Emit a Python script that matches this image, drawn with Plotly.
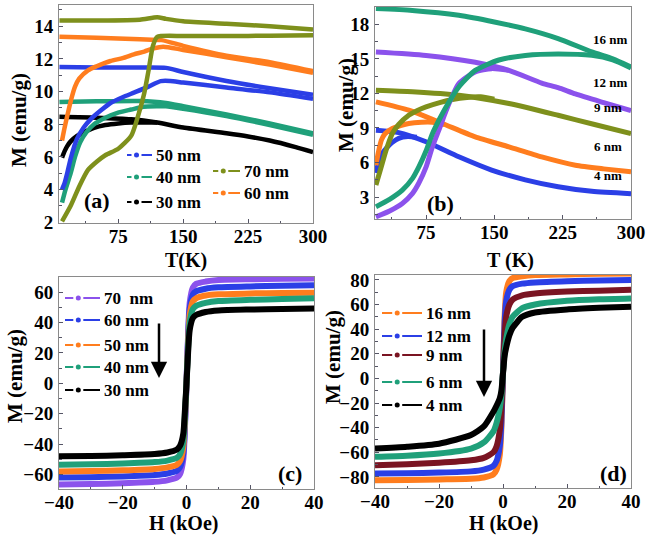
import plotly.graph_objects as go

# ---------------- data ----------------
# Panel (a): ZFC / FC, M (emu/g) vs T (K)
a_names = ["30 nm", "40 nm", "50 nm", "60 nm", "70 nm"]
a_fc_T = {
    "30 nm": [7, 50, 90, 120, 150, 200, 225, 250, 280, 300],
    "40 nm": [7, 50, 100, 130, 150, 200, 250, 300],
    "50 nm": [7, 50, 100, 130, 150, 200, 250, 300],
    "60 nm": [7, 50, 100, 125, 150, 200, 250, 300],
    "70 nm": [7, 50, 100, 120, 130, 150, 200, 250, 300],
}
a_fc_M = {
    "30 nm": [8.45, 8.4, 8.3, 8.1, 7.8, 7.45, 7.25, 7.0, 6.6, 6.3],
    "40 nm": [9.36, 9.4, 9.42, 9.3, 9.1, 8.6, 8.05, 7.45],
    "50 nm": [11.5, 11.48, 11.47, 11.45, 11.2, 10.65, 10.2, 9.8],
    "60 nm": [13.35, 13.3, 13.2, 13.15, 12.8, 12.2, 11.8, 11.25],
    "70 nm": [14.35, 14.35, 14.4, 14.55, 14.45, 14.3, 14.15, 14.0, 13.8],
}
a_zfc_T = {
    "30 nm": [10, 13, 16, 20, 27, 35, 47, 60, 75, 90, 105, 120],
    "40 nm": [10, 14, 20, 25, 31, 38, 47, 60, 74, 90, 104, 120, 130, 150, 200, 250, 300],
    "50 nm": [10, 13, 16, 20, 27, 35, 43, 55, 66, 80, 93, 110, 124, 135, 150, 200, 250, 300],
    "60 nm": [10, 13, 16, 20, 25, 30, 40, 50, 66, 80, 93, 105, 116, 127, 150, 200, 250, 300],
    "70 nm": [10, 20, 30, 40, 50, 60, 75, 90, 100, 105, 110, 115, 120, 150, 200, 250, 300],
}
a_zfc_M = {
    "30 nm": [5.95, 6.35, 6.66, 6.95, 7.27, 7.5, 7.78, 7.95, 8.05, 8.1, 8.1, 8.1],
    "40 nm": [3.2, 4.0, 5.0, 6.0, 6.9, 7.5, 8.0, 8.4, 8.7, 8.9, 9.07, 9.1, 9.1, 8.95, 8.5, 7.95, 7.35],
    "50 nm": [4.0, 4.4, 5.0, 5.9, 7.07, 7.8, 8.3, 8.85, 9.3, 9.65, 9.93, 10.3, 10.64, 10.65, 10.55, 10.25, 9.95, 9.55],
    "60 nm": [7.0, 7.8, 8.5, 9.4, 10.3, 10.8, 11.3, 11.55, 11.87, 12.05, 12.28, 12.45, 12.65, 12.75, 12.55, 12.1, 11.65, 11.15],
    "70 nm": [2.05, 3.0, 4.2, 5.2, 5.7, 6.1, 6.5, 7.3, 8.9, 9.9, 11.3, 12.8, 13.35, 13.4, 13.4, 13.42, 13.45],
}

# Panel (b)
b_names = ["4 nm", "6 nm", "9 nm", "12 nm", "16 nm"]
b_fc_T = {
    "4 nm": [20, 45, 75, 111, 147, 184, 220, 257, 300],
    "6 nm": [20, 56, 93, 129, 166, 202, 239, 270, 300],
    "9 nm": [20, 60, 111, 166, 220, 260, 300],
    "12 nm": [20, 75, 129, 166, 202, 220, 239, 270, 300],
    "16 nm": [20, 60, 111, 150, 184, 220, 257, 280, 300],
}
b_fc_M = {
    "4 nm": [8.8, 8.6, 7.8, 6.5, 5.35, 4.5, 3.9, 3.5, 3.3],
    "6 nm": [11.26, 10.54, 9.39, 8.23, 7.36, 6.49, 5.77, 5.45, 5.19],
    "9 nm": [12.28, 12.15, 11.84, 11.12, 10.1, 9.3, 8.52],
    "12 nm": [15.6, 15.3, 14.7, 14.0, 12.9, 12.5, 11.95, 11.2, 10.5],
    "16 nm": [19.36, 19.2, 18.78, 18.2, 17.6, 16.76, 15.6, 15.0, 14.3],
}
b_zfc_T = {
    "4 nm": [20, 23, 27, 32, 38, 45, 55, 65],
    "6 nm": [20, 23, 26, 30, 38, 47, 56, 70, 82, 95],
    "9 nm": [20, 25, 29, 33, 38, 45, 56, 65, 75, 90, 104, 120, 135, 150],
    "12 nm": [20, 35, 49, 60, 67, 75, 82, 90, 97, 111, 129, 147, 166],
    "16 nm": [20, 35, 49, 60, 67, 75, 82, 90, 97, 111, 129, 155, 184, 220, 257, 280, 300],
}
b_zfc_M = {
    "4 nm": [5.1, 6.0, 6.8, 7.3, 7.75, 8.1, 8.25, 8.2],
    "6 nm": [5.77, 7.0, 7.94, 8.5, 8.95, 9.2, 9.39, 9.5, 9.5, 9.3],
    "9 nm": [4.04, 5.4, 6.5, 7.5, 8.52, 9.3, 10.1, 10.5, 10.83, 11.2, 11.47, 11.65, 11.7, 11.5],
    "12 nm": [1.29, 1.8, 2.45, 3.3, 4.2, 5.6, 7.36, 9.0, 10.5, 12.86, 13.86, 14.15, 14.0],
    "16 nm": [2.16, 2.8, 3.6, 4.6, 5.6, 7.0, 8.5, 9.8, 10.83, 12.56, 14.0, 14.9, 15.3, 15.43, 15.3, 14.9, 14.2],
}

# Panel (c) and (d): M-H loops
H_kOe = [-40, -30, -20, -10, -6, -3, -2, -1, -0.5, 0, 0.5, 1, 2, 3, 6, 10, 20, 30, 40]
c_names = ["70 nm", "60 nm", "50 nm", "40 nm", "30 nm"]
c_M = {
    "70 nm": [-66.5, -66.2, -65.7, -64.8, -63.8, -62, -59.5, -50, -30, 0, 32, 53, 63, 65.5, 67, 68, 68.5, 68.8, 69],
    "60 nm": [-62, -61.7, -61.2, -60.3, -59.3, -57.5, -55, -46, -27, 0, 29, 49, 58.5, 60.5, 62.3, 63.2, 63.8, 64.2, 64.5],
    "50 nm": [-58, -57.7, -57.2, -56.3, -55.3, -53.5, -51, -42, -24, 0, 26, 45, 54, 56, 57.8, 58.6, 59.2, 59.5, 59.7],
    "40 nm": [-53.5, -53.2, -52.7, -51.8, -50.8, -49, -46.5, -38, -21, 0, 23, 40, 49, 51, 53, 54.2, 55, 55.5, 56],
    "30 nm": [-48, -47.8, -47.3, -46.5, -45.5, -43.5, -41, -33, -18, 0, 20, 35, 43, 45, 47, 48, 48.6, 49, 49.2],
}
d_names = ["16 nm", "12 nm", "9 nm", "6 nm", "4 nm"]
d_M = {
    "16 nm": [-82.7, -82.5, -82, -81.5, -80.5, -78, -74, -62, -40, 5, 50, 70, 79, 81.5, 83, 84, 84.5, 85, 85.3],
    "12 nm": [-77.3, -77, -76.5, -75.5, -74, -71, -67, -55, -35, 5, 45, 63, 72, 75, 77, 78, 79, 79.5, 80],
    "9 nm": [-70.5, -69.7, -68.5, -66.5, -64.5, -60, -55, -42, -25, 5, 35, 50, 60, 64, 67.5, 69, 70.5, 71.3, 72],
    "6 nm": [-63.7, -62.8, -61, -57, -52, -43, -36, -24, -14, 5, 22, 32, 44, 50, 57, 60, 63, 64.3, 65],
    "4 nm": [-57, -55.5, -53, -46, -39, -27, -22, -16, -10, 4, 18, 25, 35, 41, 50, 53.5, 56, 57.3, 58.3],
}

# ---------------- styles ----------------
BLUE = "#2b3fe6"
TEAL = "#1fa07a"
BLACK = "#000000"
OLIVE = "#7e901c"
ORANGE = "#ff7d1e"
PURPLE = "#8b52ec"
MAROON = "#7a1422"

a_colors = {"30 nm": BLACK, "40 nm": TEAL, "50 nm": BLUE, "60 nm": ORANGE, "70 nm": OLIVE}
b_colors = {"4 nm": BLUE, "6 nm": ORANGE, "9 nm": OLIVE, "12 nm": PURPLE, "16 nm": TEAL}
c_colors = {"70 nm": PURPLE, "60 nm": BLUE, "50 nm": ORANGE, "40 nm": TEAL, "30 nm": BLACK}
d_colors = {"16 nm": ORANGE, "12 nm": BLUE, "9 nm": MAROON, "6 nm": TEAL, "4 nm": BLACK}

W, Hh = 654, 539
SERIF = "Liberation Serif"


def pxx(x):
    return x / W


def pxy(y):
    return 1 - y / Hh


fig = go.Figure()


def add_line(x, y, color, width, xa, ya):
    fig.add_trace(go.Scatter(x=x, y=y, mode="lines", showlegend=False,
                             line=dict(color=color, width=width, shape="spline", smoothing=0.6),
                             xaxis=xa, yaxis=ya, hoverinfo="skip"))


for n in a_names:
    add_line(a_fc_T[n], a_fc_M[n], a_colors[n], 4.5, "x", "y")
    add_line(a_zfc_T[n], a_zfc_M[n], a_colors[n], 4.5, "x", "y")
for n in b_names:
    add_line(b_fc_T[n], b_fc_M[n], b_colors[n], 5, "x2", "y2")
    add_line(b_zfc_T[n], b_zfc_M[n], b_colors[n], 5, "x2", "y2")
for n in c_names:
    add_line(H_kOe, c_M[n], c_colors[n], 6, "x3", "y3")
for n in d_names:
    add_line(H_kOe, d_M[n], d_colors[n], 6, "x4", "y4")


def axis(domain, rng, dtick, minor_dtick, anchor, standoff, fsize):
    return dict(domain=domain, range=rng, anchor=anchor, automargin=False, showline=True,
                linecolor="#8a8a8a", linewidth=1, mirror=True, ticks="inside", ticklen=4,
                tickcolor="#556", tickmode="linear", tick0=0, dtick=dtick, showgrid=False,
                zeroline=False, tickfont=dict(family=SERIF, size=fsize, color="black", weight="bold"),
                ticklabelstandoff=standoff,
                minor=dict(ticks="inside", ticklen=2.5, tickcolor="#556", dtick=minor_dtick, tick0=0))


XS, YS, XF, YF = -4, 1, 19, 19
layout = dict(
    template="none",
    width=W, height=Hh, margin=dict(l=0, r=0, t=0, b=0, pad=0), autosize=False,
    paper_bgcolor="white", plot_bgcolor="white", showlegend=False,
    xaxis=axis([pxx(59), pxx(313)], [6.5, 300], 75, 37.5, "y", XS, XF),
    yaxis=axis([pxy(223), pxy(5)], [1.95, 15.3], 2, 1, "x", YS, YF),
    xaxis2=axis([pxx(375), pxx(631)], [19, 300], 75, 37.5, "y2", XS, XF),
    yaxis2=axis([pxy(219), pxy(7)], [1.1, 19.5], 3, 1.5, "x2", YS, YF),
    xaxis3=axis([pxx(59), pxx(314)], [-40, 40], 20, 10, "y3", XS, XF),
    yaxis3=axis([pxy(489), pxy(277)], [-69.5, 70], 20, 10, "x3", YS, YF),
    xaxis4=axis([pxx(375), pxx(631)], [-40, 40], 20, 10, "y4", XS, XF),
    yaxis4=axis([pxy(488), pxy(275)], [-89, 84], 20, 10, "x4", YS, YF),
)
fig.update_layout(**layout)

annotations = []
shapes = []


def text(x, y, s, size, xanchor="center", angle=0):
    annotations.append(dict(x=pxx(x), y=pxy(y), xref="paper", yref="paper", text=s, showarrow=False,
                            xanchor=xanchor, yanchor="middle", textangle=angle,
                            font=dict(family=SERIF, size=size, color="black", weight="bold")))


# axis titles
text(19, 120, "M (emu/g)", 21, angle=-90)
text(346, 105, "M (emu/g)", 21, angle=-90)
text(15, 376, "M (emu/g)", 21, angle=-90)
text(333, 357, "M (emu/g)", 21, angle=-90)
text(186, 260, "T(K)", 20)
text(510, 260, "T (K)", 20)
text(183, 523, "H (kOe)", 20)
text(503, 523, "H (kOe)", 20)

# panel labels
text(97, 201, "(a)", 22)
text(440, 203, "(b)", 22)
text(290, 473, "(c)", 22)
text(613, 473, "(d)", 22)

# (b) inline labels
b_label_pos = {"16 nm": (610, 39), "12 nm": (610, 82), "9 nm": (608, 108), "6 nm": (608, 146), "4 nm": (608, 176)}
for n in b_names:
    text(b_label_pos[n][0], b_label_pos[n][1], n, 13)


def legend_item(x0, x1, y, color, label, size=17):
    xd = x0 + (x1 - x0) * 0.38
    shapes.append(dict(type="line", xref="paper", yref="paper", x0=pxx(x0), x1=pxx(xd - 5),
                       y0=pxy(y), y1=pxy(y), line=dict(color=color, width=2)))
    shapes.append(dict(type="line", xref="paper", yref="paper", x0=pxx(xd + 5), x1=pxx(x1),
                       y0=pxy(y), y1=pxy(y), line=dict(color=color, width=2)))
    shapes.append(dict(type="circle", xref="paper", yref="paper", x0=pxx(xd - 2.5), x1=pxx(xd + 2.5),
                       y0=pxy(y + 2.5), y1=pxy(y - 2.5), fillcolor=color, line=dict(color=color, width=0)))
    text(x1 + 2, y, label, size, xanchor="left")


# (a) legend
a_leg_pos = {"50 nm": (127, 152, 155), "40 nm": (127, 152, 177), "30 nm": (127, 152, 202),
             "70 nm": (213, 240, 171), "60 nm": (213, 240, 193)}
for n in ["50 nm", "40 nm", "30 nm", "70 nm", "60 nm"]:
    x0, x1, y = a_leg_pos[n]
    legend_item(x0, x1, y, a_colors[n], n)

# (c) legend
c_leg_y = [298, 320, 345, 367, 390]
c_labels = ["70\u00a0\u00a0nm", "60 nm", "50 nm", "40 nm", "30 nm"]
for n, lab, y in zip(c_names, c_labels, c_leg_y):
    legend_item(65, 100, y, c_colors[n], lab)

# (d) legend
d_leg_y = [313, 336, 355, 382, 405]
for n, y in zip(d_names, d_leg_y):
    legend_item(382, 422, y, d_colors[n], n)

# arrows
for ax_x, y_tail, y_head in [(159, 322, 378), (484, 328, 397)]:
    annotations.append(dict(x=pxx(ax_x), y=pxy(y_head), xref="paper", yref="paper",
                            ax=0, ay=-(y_head - y_tail), axref="pixel", ayref="pixel",
                            showarrow=True, arrowhead=2, arrowsize=1.3, arrowwidth=2.5,
                            arrowcolor="black", text=""))

fig.update_layout(annotations=annotations, shapes=shapes)

PAGE_FIX = (
    "var de=document.documentElement, b=document.body;"
    "[de,b].forEach(function(e){e.style.margin='0';e.style.padding='0';e.style.overflow='hidden';"
    "e.style.width='654px';e.style.height='539px';});"
    "var g=document.getElementsByClassName('plotly-graph-div')[0];"
    "g.style.position='absolute';g.style.left='0px';g.style.top='0px';"
)
fig.write_html("out.html", config={"displayModeBar": False}, post_script=PAGE_FIX)
